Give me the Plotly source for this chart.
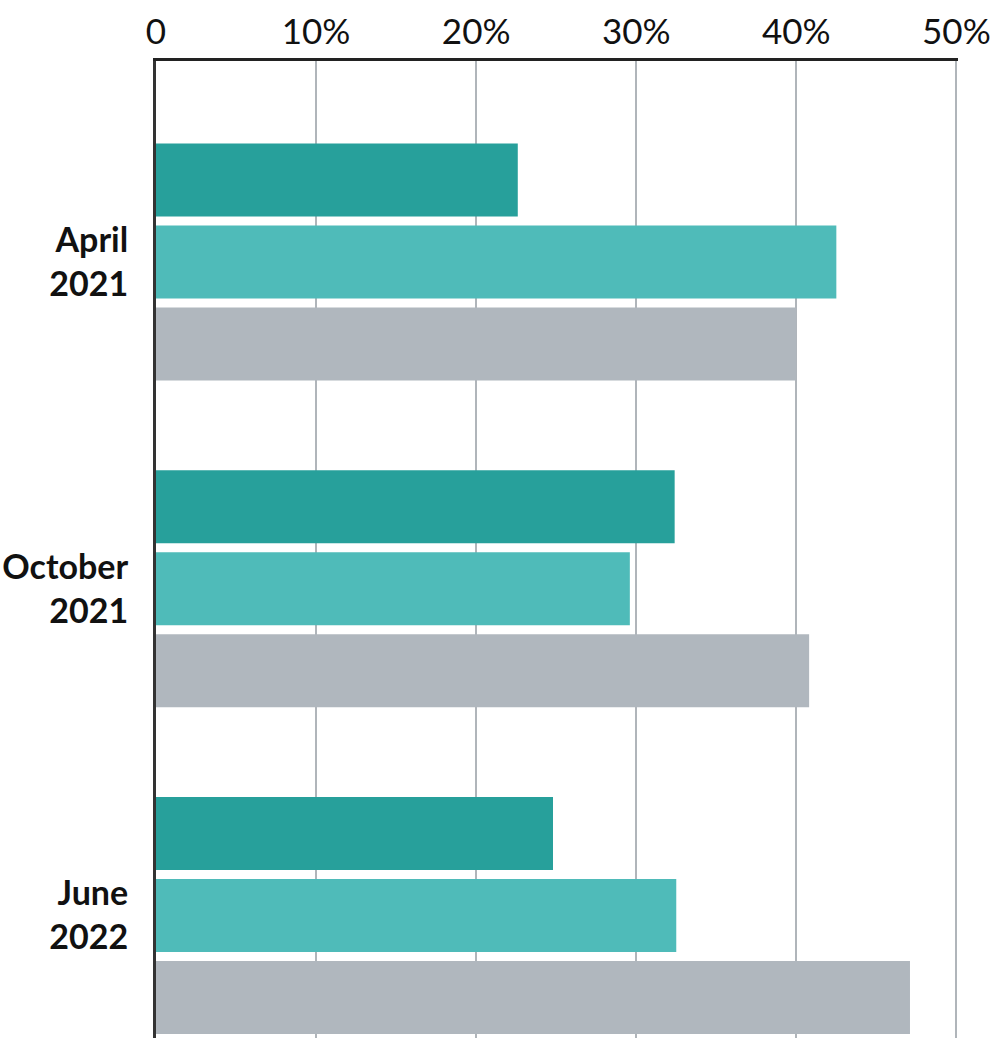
import plotly.graph_objects as go

# categories (top to bottom) and series values, in percent
periods = ["April<br>2021", "October<br>2021", "June<br>2022"]
series_a = [22.6, 32.4, 24.8]
series_b = [42.5, 29.6, 32.5]
series_c = [40.0, 40.8, 47.1]

tick_vals = [0, 10, 20, 30, 40, 50]
tick_text = ["0", "10%", "20%", "30%", "40%", "50%"]

colors = ["#27a09b", "#4fbbb9", "#b0b7be"]

fig = go.Figure()
for name, vals, col in zip(["Series A", "Series B", "Series C"],
                           [series_a, series_b, series_c], colors):
    fig.add_trace(go.Bar(
        y=periods, x=vals, name=name, orientation="h",
        marker_color=col, marker_line_width=0,
    ))

fig.update_layout(
    width=997, height=1038,
    margin=dict(l=156, r=39, t=61, b=0),
    barmode="group",
    bargap=0.247,
    bargroupgap=0.11,
    showlegend=False,
    plot_bgcolor="white",
    paper_bgcolor="white",
    font=dict(family="Lato, sans-serif", color="#111111"),
)

fig.update_xaxes(
    side="top",
    range=[0, 50.1],
    tickvals=tick_vals,
    ticktext=tick_text,
    tickfont=dict(size=35, color="#111111"),
    showgrid=True, gridcolor="#b0b5ba", gridwidth=2,
    showline=True, linecolor="#222222", linewidth=3,
    zeroline=False,
    ticks="",
    ticklabelstandoff=0,
    ticklabeloverflow="allow",
    automargin=False,
)

fig.update_yaxes(
    range=[2.375, -0.615],
    tickfont=dict(size=34, color="#111111", weight="bold"),
    showline=True, linecolor="#333333", linewidth=3,
    showgrid=False, zeroline=False,
    ticks="",
    ticklabelstandoff=18,
    ticklabeloverflow="allow",
    automargin=False,
)

# drop the default body margin so the figure sits at the window's corner
fig.write_html("out.html", config={"displayModeBar": False},
               post_script="document.body.style.margin = '0';")
